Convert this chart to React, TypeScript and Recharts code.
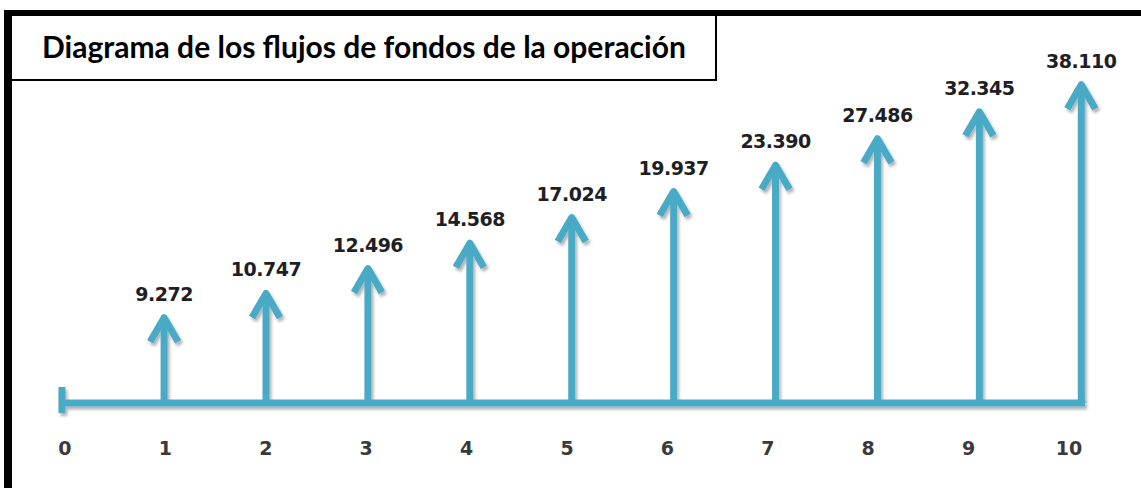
import React from "react";
import {
  ComposedChart,
  Bar,
  XAxis,
  YAxis,
  LabelList,
  ReferenceLine,
} from "recharts";

// periods of the cash-flow diagram and the flow received at each one
const periods = ["0", "1", "2", "3", "4", "5", "6", "7", "8", "9", "10"];
const flows = [null, 9272, 10747, 12496, 14568, 17024, 19937, 23390, 27486, 32345, 38110];
const yDomain = [5460, 60000];

const data = periods.map((p, i) => ({ period: p, flow: flows[i] }));

const ARROW = "#4aaac6";

const fmt = (n: number) => String(n).replace(/\B(?=(\d{3})+(?!\d))/g, ".");

function Arrow(props: any) {
  const { x, y, width, height } = props;
  if (height == null || isNaN(height)) return null;
  const cx = x + width / 2;
  const bottom = y + height;
  return (
    <g filter="url(#arrowShadow)">
      <line x1={cx} y1={bottom} x2={cx} y2={y + 4} stroke={ARROW} strokeWidth={7} />
      <path
        d={`M${cx - 14},${y + 26} L${cx},${y + 2} L${cx + 14},${y + 26}`}
        fill="none"
        stroke={ARROW}
        strokeWidth={7}
        strokeLinejoin="round"
      />
    </g>
  );
}

function Baseline(props: any) {
  const { x1, y1, x2, y2 } = props;
  return (
    <g filter="url(#arrowShadow)">
      <line x1={x1 - 2} y1={y1} x2={x2 + 4} y2={y2} stroke={ARROW} strokeWidth={7} />
      <line x1={x1} y1={y1 - 16} x2={x1} y2={y1 + 10} stroke={ARROW} strokeWidth={7} />
    </g>
  );
}

function ValueLabel(props: any) {
  const { x, y, width, value } = props;
  if (value == null) return null;
  return (
    <text
      x={x + width / 2}
      y={y - 15}
      textAnchor="middle"
      fontFamily="DejaVu Sans"
      fontWeight="bold"
      fontSize={19}
      letterSpacing={-0.5}
      fill="#1e1e24"
    >
      {fmt(value)}
    </text>
  );
}

function PeriodTick(props: any) {
  const { x, y, payload, index } = props;
  return (
    <text
      x={x + 3 - 1.5 * index}
      y={y + 52}
      textAnchor="middle"
      fontFamily="DejaVu Sans"
      fontWeight="bold"
      fontSize={19}
      fill="#3a3a3a"
    >
      {payload.value}
    </text>
  );
}

export default function App() {
  return (
    <div style={{ position: "fixed", left: 0, top: 0, width: 1141, height: 488, background: "#fff" }}>
      <svg width={0} height={0} style={{ position: "absolute" }}>
        <defs>
          <filter id="arrowShadow" x="-50%" y="-10%" width="200%" height="130%">
            <feDropShadow dx={2} dy={3} stdDeviation={1.5} floodColor="#000" floodOpacity={0.3} />
          </filter>
        </defs>
      </svg>
      <div style={{ position: "absolute", left: 0, top: 0 }}>
        <ComposedChart
          width={1141}
          height={488}
          data={data}
          margin={{ top: 8, right: 9, bottom: 45, left: 11 }}
        >
          <XAxis
            dataKey="period"
            axisLine={false}
            tickLine={false}
            tickSize={0}
            tickMargin={0}
            height={40}
            interval={0}
            tick={<PeriodTick />}
          />
          <YAxis hide type="number" scale="log" domain={yDomain} allowDataOverflow />
          <ReferenceLine
            segment={[
              { x: periods[0], y: yDomain[0] },
              { x: periods[periods.length - 1], y: yDomain[0] },
            ]}
            ifOverflow="visible"
            shape={<Baseline />}
          />
          <Bar dataKey="flow" shape={<Arrow />} isAnimationActive={false}>
            <LabelList dataKey="flow" content={<ValueLabel />} />
          </Bar>
        </ComposedChart>
      </div>
      {/* frame: thick top and left edges */}
      <div
        style={{
          position: "absolute",
          left: 4,
          top: 10,
          width: 1137,
          height: 478,
          borderTop: "6px solid #000",
          borderLeft: "8px solid #000",
          boxSizing: "border-box",
          pointerEvents: "none",
        }}
      />
      {/* title box */}
      <div
        style={{
          position: "absolute",
          left: 12,
          top: 16,
          width: 705,
          height: 65,
          borderRight: "2px solid #000",
          borderBottom: "2px solid #000",
          boxSizing: "border-box",
          background: "#fff",
          display: "flex",
          alignItems: "center",
          paddingLeft: 30,
          paddingBottom: 4,
          fontFamily: "Lato",
          fontWeight: 700,
          fontSize: 30,
          color: "#000",
          whiteSpace: "nowrap",
        }}
      >
        Diagrama de los flujos de fondos de la operación
      </div>
    </div>
  );
}
